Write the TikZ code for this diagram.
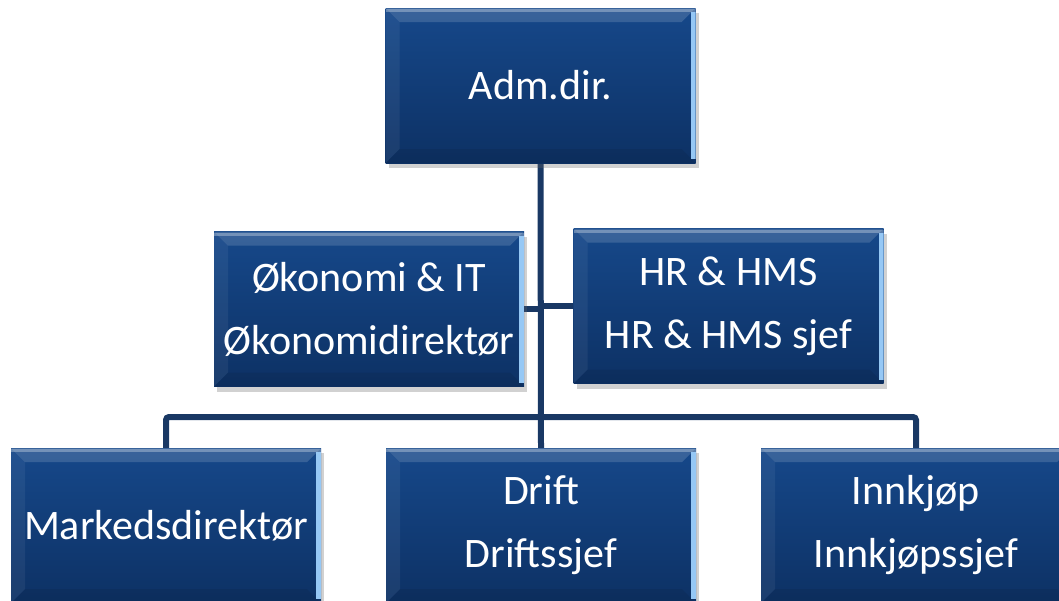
\documentclass[tikz,border=0pt]{standalone}
\usepackage{fontspec}
\setmainfont{Carlito}
\usetikzlibrary{shadows,backgrounds,calc}
\definecolor{boxtop}{RGB}{22,72,138}
\definecolor{boxbot}{RGB}{13,49,100}
\definecolor{linecol}{RGB}{25,56,100}
\definecolor{edgehi}{RGB}{150,200,245}
\tikzset{
  orgbox/.style={rectangle, minimum width=310pt, minimum height=155pt,
    inner sep=0pt, top color=boxtop, bottom color=boxbot,
    text=white, align=center, font=\fontsize{42}{63}\selectfont,
    drop shadow={shadow xshift=3pt, shadow yshift=-5pt, opacity=0.3, fill=black!60},
    path picture={
      \coordinate (nw) at (path picture bounding box.north west);
      \coordinate (ne) at (path picture bounding box.north east);
      \coordinate (sw) at (path picture bounding box.south west);
      \coordinate (se) at (path picture bounding box.south east);
      \fill[white, opacity=0.15] (nw) -- (ne) -- ($(ne)+(-14pt,-14pt)$) -- ($(nw)+(14pt,-14pt)$) -- cycle;
      \fill[white, opacity=0.06] (nw) -- ($(nw)+(14pt,-14pt)$) -- ($(sw)+(14pt,14pt)$) -- (sw) -- cycle;
      \fill[black, opacity=0.07] (sw) -- (se) -- ($(se)+(-14pt,14pt)$) -- ($(sw)+(14pt,14pt)$) -- cycle;
      \fill[edgehi] ($(ne)+(-5pt,-4pt)$) rectangle ($(se)+(0pt,4pt)$);
      \fill[white, opacity=0.3] ($(nw)+(0,-1pt)$) rectangle ($(ne)+(0,-4pt)$);
    }},
  conn/.style={draw=linecol, line width=6pt, rounded corners=3pt}
}
\begin{document}
\begin{tikzpicture}[x=1pt,y=-1pt]
\useasboundingbox (0,0) rectangle (1059,600);
\node[orgbox] (adm) at (540.5,85.5) {Adm.dir.};
\node[orgbox] (oko) at (369,309) {Økonomi \& IT\\Økonomidirektør};
\node[orgbox] (hr) at (728.5,306) {HR \& HMS\\HR \& HMS sjef};
\node[orgbox] (mark) at (166,525.5) {Markedsdirektør};
\node[orgbox] (drift) at (541,525.5) {Drift\\Driftssjef};
\node[orgbox] (innk) at (916,525.5) {Innkjøp\\Innkjøpssjef};
\coordinate (bus) at (541,417);
\begin{scope}[on background layer]
\draw[conn] (adm.south) -- (drift.north);
\draw[conn] (oko.east) -- (adm.south |- oko.east);
\draw[conn] (hr.west) -- (adm.south |- hr.west);
\draw[conn] (mark.north) |- (bus) -| (innk.north);
\end{scope}
\end{tikzpicture}
\end{document}
